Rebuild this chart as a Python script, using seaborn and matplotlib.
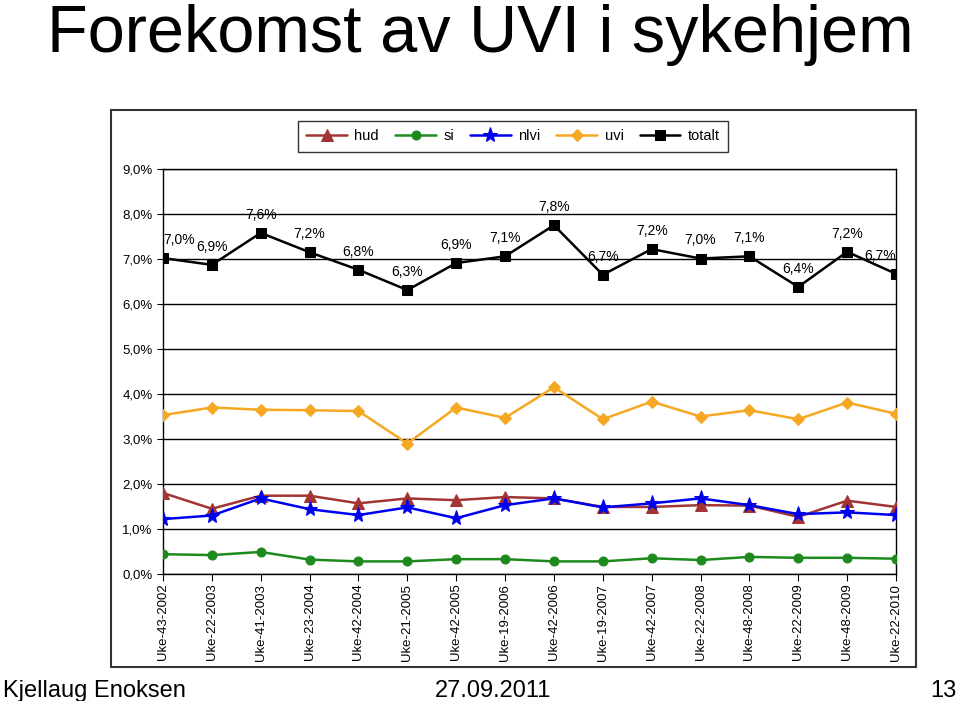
import pandas as pd
import seaborn as sns
import matplotlib.pyplot as plt
from matplotlib.patches import Rectangle
from matplotlib.ticker import FuncFormatter

uker = ["Uke-43-2002", "Uke-22-2003", "Uke-41-2003", "Uke-23-2004", "Uke-42-2004",
        "Uke-21-2005", "Uke-42-2005", "Uke-19-2006", "Uke-42-2006", "Uke-19-2007",
        "Uke-42-2007", "Uke-22-2008", "Uke-48-2008", "Uke-22-2009", "Uke-48-2009",
        "Uke-22-2010"]

# verdier i prosent
hud = [1.80, 1.45, 1.74, 1.74, 1.57, 1.68, 1.64, 1.71, 1.68, 1.49, 1.49, 1.53, 1.52, 1.27, 1.63, 1.49]
si = [0.44, 0.42, 0.49, 0.32, 0.28, 0.28, 0.33, 0.33, 0.28, 0.28, 0.35, 0.31, 0.38, 0.36, 0.36, 0.34]
nlvi = [1.22, 1.30, 1.68, 1.44, 1.31, 1.48, 1.24, 1.53, 1.68, 1.48, 1.57, 1.68, 1.53, 1.33, 1.37, 1.31]
uvi = [3.53, 3.70, 3.65, 3.64, 3.62, 2.90, 3.70, 3.47, 4.15, 3.44, 3.83, 3.50, 3.64, 3.44, 3.81, 3.56]
totalt = [7.02, 6.87, 7.58, 7.15, 6.76, 6.31, 6.91, 7.06, 7.75, 6.65, 7.22, 7.01, 7.06, 6.38, 7.16, 6.67]

serier = ["hud", "si", "nlvi", "uvi", "totalt"]
farger = {"hud": "#A33434", "si": "#1E8A1E", "nlvi": "#0000F0", "uvi": "#F7A823", "totalt": "#000000"}
markorer = {"hud": "^", "si": "o", "nlvi": "*", "uvi": "D", "totalt": "s"}
storrelser = {"hud": 8, "si": 6.5, "nlvi": 11, "uvi": 6.5, "totalt": 7}

df = pd.DataFrame({"x": range(len(uker)), "uke": uker, "hud": hud, "si": si,
                   "nlvi": nlvi, "uvi": uvi, "totalt": totalt})

sns.set_style("white")
plt.rcParams["font.family"] = ["Liberation Sans", "DejaVu Sans"]
plt.rcParams["text.color"] = "black"
plt.rcParams["xtick.color"] = "black"
plt.rcParams["ytick.color"] = "black"

fig = plt.figure(figsize=(9.6, 7.01), dpi=100)
fig.patches.append(Rectangle((111 / 960, 1 - 667 / 701), 805 / 960, 557 / 701,
                             transform=fig.transFigure, fill=False,
                             edgecolor="#333333", linewidth=1.5))
ax = fig.add_axes([163 / 960, 1 - 574 / 701, 733 / 960, 405 / 701])

for s in serier:
    sns.lineplot(data=df, x="x", y=s, ax=ax, color=farger[s], marker=markorer[s],
                 markersize=storrelser[s], markeredgecolor=farger[s],
                 linewidth=1.8, label=s, zorder=3)

# dataetiketter for totalt
for i, v in enumerate(totalt):
    ha = "center"
    if i == 0:
        ha = "left"
    elif i == len(totalt) - 1:
        ha = "right"
    ax.annotate(f"{v:.1f}%".replace(".", ","), (i, v), xytext=(0, 8),
                textcoords="offset points", ha=ha, va="bottom", fontsize=10)

ax.set_xlim(0, len(uker) - 1)
ax.set_ylim(0, 9)
ax.set_yticks(range(0, 10))
ax.yaxis.set_major_formatter(FuncFormatter(lambda v, p: f"{v:.1f}%".replace(".", ",")))
ax.set_xticks(df["x"])
ax.set_xticklabels(uker, rotation=90, fontsize=9.5)
ax.tick_params(axis="y", labelsize=9.5, length=4, direction="out", left=True)
ax.tick_params(axis="x", length=5, direction="out", bottom=True, pad=2)
ax.grid(axis="y", color="black", linewidth=1)
ax.set_axisbelow(True)
ax.set_xlabel("")
ax.set_ylabel("")
for sp in ax.spines.values():
    sp.set_color("black")
    sp.set_linewidth(1)

handles, labels = ax.get_legend_handles_labels()
ax.get_legend().remove()
fig.legend(handles, labels, loc="center", bbox_to_anchor=(513 / 960, 1 - 136.5 / 701),
           ncol=5, frameon=True, fancybox=False, edgecolor="black", fontsize=10.5,
           handlelength=2.8, columnspacing=1.1, borderpad=0.55, handletextpad=0.5)

fig.text(0.5, 1 - 52 / 701, "Forekomst av UVI i sykehjem", ha="center", va="baseline",
         fontsize=48)
fig.text(3 / 960, 1 - 697 / 701, "Kjellaug Enoksen", ha="left", va="baseline", fontsize=17)
fig.text(493 / 960, 1 - 697 / 701, "27.09.2011", ha="center", va="baseline", fontsize=17)
fig.text(957 / 960, 1 - 697 / 701, "13", ha="right", va="baseline", fontsize=17)

plt.savefig("out.png", dpi=100)
